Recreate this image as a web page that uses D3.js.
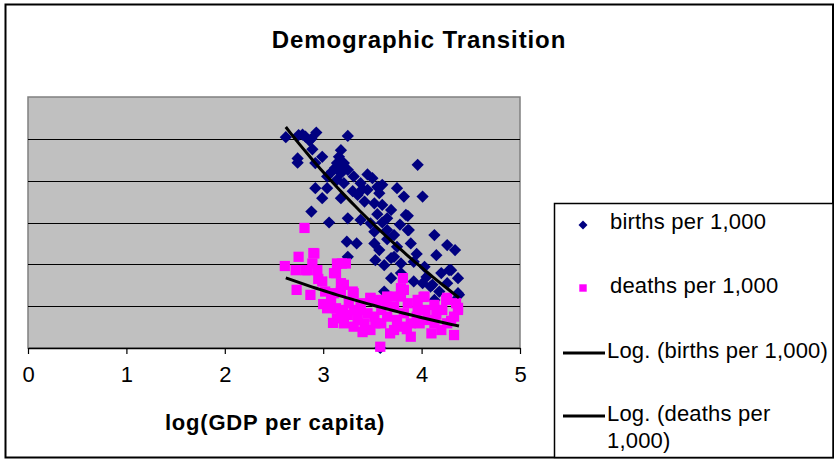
<!DOCTYPE html>
<html><head><meta charset="utf-8">
<script src="https://cdn.jsdelivr.net/npm/d3@7"></script>
<style>body{margin:0;background:#fff}svg{display:block;font-family:Arial,"Liberation Sans",sans-serif}</style>
</head><body><svg id="c" width="836" height="462"></svg>
<script>
const xTicks = [0,1,2,3,4,5];
const yGrid = [10,20,30,40,50];
const birthsX = [2.62,2.75,2.82,2.86,2.93,3.25,2.79,2.88,
 2.74,2.74,2.89,2.92,2.99,3.18,3.16,3.14,3.21,3.96,
 3.09,3.18,3.25,3.31,3.04,3.14,3.12,3.20,
 2.92,3.04,3.21,3.38,3.50,3.60,3.75,3.82,4.01,3.45,3.40,3.55,
 2.99,3.18,3.35,3.45,3.57,3.42,3.52,3.60,3.84,3.30,
 2.88,3.06,3.25,3.38,3.48,3.65,3.86,3.69,3.55,
 3.52,3.65,3.72,3.86,3.87,3.60,3.78,
 3.24,3.34,3.52,3.57,3.75,3.89,4.13,4.26,4.34,4.15,3.65,
 3.53,3.62,3.72,3.79,3.92,4.03,3.25,3.69,3.95,
 4.20,4.28,4.37,4.30,3.92,4.01,4.09,4.26,4.11,
 4.38,4.37,3.69,3.79,3.62,4.13,4.33,4.05,4.18,3.58];
const birthsY = [50.4,50.9,50.5,49.6,51.5,50.7,51.0,50.0,
 45.3,44.3,47.5,44.2,45.7,47.3,45.7,44.2,44.2,43.8,
 42.2,41.8,42.6,41.0,41.0,40.2,43.0,43.5,
 38.2,38.2,39.4,39.4,40.6,39.0,38.2,36.2,36.2,41.5,38.0,38.5,
 35.8,35.8,36.6,37.8,37.0,35.0,34.6,34.2,31.8,37.5,
 32.6,30.0,31.0,30.6,29.8,31.0,31.6,33.0,32.0,
 27.8,28.2,27.0,28.2,28.2,30.0,29.5,
 25.4,25.0,25.0,23.4,24.2,25.0,27.0,24.6,23.4,22.2,26.0,
 21.0,19.8,21.8,20.2,20.6,19.4,21.8,21.5,22.5,
 17.9,18.6,16.7,18.6,15.9,15.5,14.7,15.5,15.1,
 12.7,13.1,16.7,17.9,13.5,11.5,11.1,17.0,13.5,0.0];
const deathsX = [2.61,2.81,2.75,2.72,2.91,2.89,2.82,2.94,2.73,2.87,2.99,3.11,3.14,3.23,3.19,3.13,3.21,2.84,2.90,
 3.04,3.18,3.18,3.30,3.08,3.11,3.31,3.48,3.58,3.02,
 3.14,3.25,3.35,3.21,3.31,3.38,3.45,3.48,3.42,3.53,3.59,3.65,3.65,3.72,3.72,
 3.81,3.82,3.79,3.82,3.89,3.89,3.96,4.03,4.04,4.13,4.13,4.21,4.25,4.26,4.33,4.37,4.35,3.96,3.58,
 3.52,3.31,3.59,3.75,3.62,3.86,4.06,4.20,3.38,3.13,3.26,3.48,3.20,3.98,4.33,3.72,3.55,3.79,3.79,4.02,4.26,4.37,3.18,3.10,3.40,3.68,4.10,3.95,4.15,3.00,2.95,4.30,3.85];
const deathsY = [19.6,28.7,21.8,18.6,22.6,20.2,18.6,18.6,13.9,12.7,15.9,17.9,20.2,20.2,20.2,17.9,15.1,18.6,22.7,
 9.5,15.5,13.5,13.5,11.5,13.1,13.1,12.0,11.5,13.5,
 7.1,7.9,6.7,5.9,9.1,10.7,8.3,11.9,5.9,5.9,9.1,12.3,7.5,9.9,4.3,
 16.7,13.9,12.3,8.3,5.9,2.7,9.1,12.3,9.1,10.3,5.9,9.1,11.5,5.9,3.1,9.1,10.7,11.5,0.3,
 7.5,5.1,5.9,6.7,10.7,10.7,6.7,4.3,9.1,9.5,10.7,4.3,9.1,5.9,7.5,12.3,11.1,5.1,14.3,12.2,12.0,9.6,7.2,6.0,3.8,3.5,3.5,7.5,8.0,10.5,16.5,6.5,4.5];
// logarithmic trend lines y = a*ln(x) + b
const trendBirths = [-79.4, 129.3];
const trendDeaths = [-22.45, 38.4];
const trendRange = [2.62, 4.38];
const legendLabels = ["births per 1,000","deaths per 1,000","Log. (births per 1,000)","Log. (deaths per 1,000)"];

const svg = d3.select("#c");
svg.append("rect").attr("x",5.5).attr("y",4.5).attr("width",827.5).attr("height",453).attr("fill","#fff").attr("stroke","#000").attr("stroke-width",2);

const x = d3.scaleLinear().domain([0,5]).range([28,520]);
const y = d3.scaleLinear().domain([0,60]).range([348,97]);

svg.append("rect").attr("x",x(0)).attr("y",y(60)).attr("width",x(5)-x(0)).attr("height",y(0)-y(60))
  .attr("fill","#c0c0c0").attr("stroke","#808080").attr("stroke-width",1.5);
svg.append("g").selectAll("line").data(yGrid).join("line")
  .attr("x1",x(0)).attr("x2",x(5)).attr("y1",d=>Math.round(y(d))+0.5).attr("y2",d=>Math.round(y(d))+0.5)
  .attr("stroke","#000").attr("stroke-width",1);

const xa = svg.append("g").attr("transform",`translate(0,${y(0)})`)
  .call(d3.axisBottom(x).tickValues(xTicks).tickFormat(d3.format("d")).tickSizeInner(6).tickSizeOuter(0).tickPadding(12));
xa.select(".domain").attr("stroke","#000").attr("stroke-width",1.5);
xa.selectAll(".tick line").attr("stroke","#000").attr("stroke-width",1.2);
xa.selectAll("text").attr("font-size",22).attr("fill","#000").attr("font-family","Arial,'Liberation Sans',sans-serif");

// diamond = rotated square
const diamond = d3.symbol().type(d3.symbolSquare).size(75);
const square = d3.symbol().type(d3.symbolSquare).size(105);
svg.append("g").selectAll("path").data(birthsX.map((v,i)=>[v,birthsY[i]])).join("path")
  .attr("d",diamond).attr("transform",d=>`translate(${x(d[0])},${y(d[1])}) rotate(45)`).attr("fill","#000080");
svg.append("g").selectAll("path").data(deathsX.map((v,i)=>[v,deathsY[i]])).join("path")
  .attr("d",square).attr("transform",d=>`translate(${x(d[0])},${y(d[1])})`).attr("fill","#ff00ff");

function trend(c){
  const xs = d3.range(0,41).map(i=>trendRange[0]+(trendRange[1]-trendRange[0])*i/40);
  return xs.map(v=>[v, c[0]*Math.log(v)+c[1]]);
}
const line = d3.line().x(d=>x(d[0])).y(d=>y(d[1]));
[trendBirths,trendDeaths].forEach(c=>{
  svg.append("path").attr("d",line(trend(c))).attr("fill","none").attr("stroke","#000").attr("stroke-width",3);
});

svg.append("text").attr("x",419).attr("y",48).attr("text-anchor","middle").attr("font-size",24).attr("font-weight","bold").attr("letter-spacing",0.9).text("Demographic Transition");
svg.append("text").attr("x",275).attr("y",430).attr("text-anchor","middle").attr("font-size",22).attr("font-weight","bold").attr("letter-spacing",0.8).text("log(GDP per capita)");

const lg = svg.append("g");
lg.append("rect").attr("x",554.5).attr("y",203.5).attr("width",278.5).attr("height",254).attr("fill","#fff").attr("stroke","#000").attr("stroke-width",1.5);
lg.append("path").attr("d",d3.symbol().type(d3.symbolSquare).size(40)).attr("transform","translate(583,225) rotate(45)").attr("fill","#000080");
lg.append("path").attr("d",d3.symbol().type(d3.symbolSquare).size(55)).attr("transform","translate(583,288)").attr("fill","#ff00ff");
lg.append("line").attr("x1",563).attr("x2",605).attr("y1",353).attr("y2",353).attr("stroke","#000").attr("stroke-width",3);
lg.append("line").attr("x1",563).attr("x2",605).attr("y1",416).attr("y2",416).attr("stroke","#000").attr("stroke-width",3);
const lt = [[610,229,legendLabels[0]],[610,293,legendLabels[1]],[607,358,legendLabels[2]],[607,421,"Log. (deaths per"],[607,448,"1,000)"]];
lg.selectAll("text").data(lt).join("text").attr("x",d=>d[0]).attr("y",d=>d[1]).attr("font-size",22).attr("letter-spacing",0.2).text(d=>d[2]);
</script></body></html>
